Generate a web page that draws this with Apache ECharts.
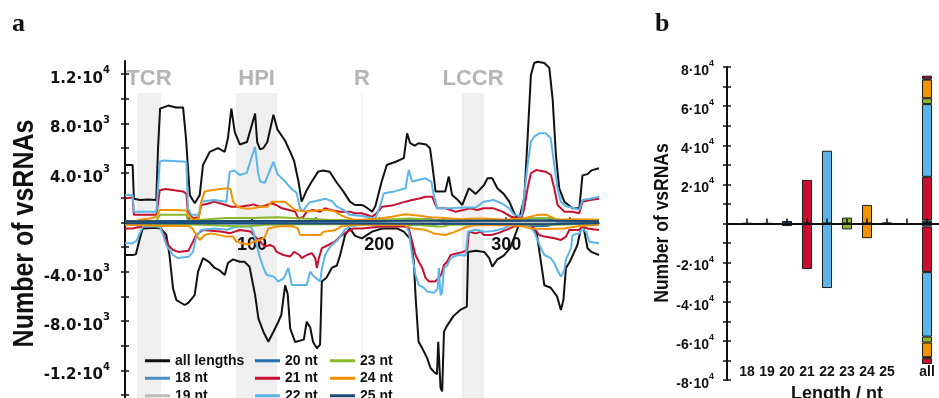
<!DOCTYPE html>
<html>
<head>
<meta charset="utf-8">
<script src="https://cdn.jsdelivr.net/npm/echarts@6.0.0/dist/echarts.min.js"></script>
<style>
  html, body { margin: 0; padding: 0; background: #fff; }
  #chart { width: 939px; height: 398px; }
</style>
</head>
<body>
<div id="chart"></div>
<script>
// ---- panel a: coverage along the genome, [position, count] ----
const allSense = [[0,4640],[6,4640],[7,1900],[12,1800],[18,1850],[24.6,1800],[26,6000],[27.6,9200],[34,9450],[40,9300],[45.7,9300],[48,6800],[51,2200],[54.9,1540],[58.8,2200],[61.4,4640],[66.7,5700],[73.2,6000],[78.5,5700],[81,6800],[83.7,9200],[86.4,7300],[90.3,6300],[96,6500],[102.4,8800],[104,6500],[106.3,5900],[108.8,6000],[112,6500],[116.8,8700],[120,7500],[126,6600],[130,5700],[133,5000],[136.5,3300],[139,1670],[143,2600],[147,3300],[152,4100],[156,4200],[161,4100],[166.7,3200],[171.8,2500],[177,1670],[181,1400],[186.4,1400],[190,1200],[194.5,860],[197,1300],[202,3300],[206,4640],[213,4900],[219.4,5200],[222,7200],[224.4,6400],[228,6200],[231,6400],[237,6300],[240,6000],[242,4500],[244.4,2500],[252,2500],[254.8,3700],[257.4,2200],[262,1800],[265.4,1400],[270.6,2750],[276,2300],[282.4,3000],[285.3,3560],[289,3560],[293,2750],[298,2300],[302.4,1670],[306.3,730],[310,200],[314.2,1940],[316.8,6800],[319.4,11900],[322,12900],[324.7,13000],[330,12900],[333.9,12500],[336.5,10000],[339.1,5450],[341.7,2750],[345.7,1670],[352.2,1130],[357.5,1130],[360,3800],[364,3900],[367,4200],[373,4370]];
const allAnti = [[0,-2650],[6,-2650],[8.5,-2600],[12,-1200],[14,-500],[24.7,-450],[28,-500],[32.5,-1000],[35,-2650],[37.8,-5350],[40.4,-6300],[47,-6700],[50,-6500],[54.8,-5900],[57.5,-4000],[61.4,-2900],[66,-3200],[70.6,-3700],[74.5,-3900],[78.5,-4270],[81,-3300],[85,-3000],[90.3,-3200],[94,-3200],[98,-3600],[102.4,-5900],[105,-7800],[108.9,-8860],[112.8,-9670],[116.8,-8860],[120.7,-8050],[123,-7500],[126,-5100],[128,-5800],[130,-8600],[133.9,-9700],[140.7,-9500],[143,-8050],[145.7,-8500],[148,-9700],[151,-10200],[153.5,-9900],[154.9,-4800],[158.5,-4500],[162.7,-3700],[166.7,-3500],[169.3,-2650],[173.2,-1030],[177,-490],[181,-1100],[186.4,-1300],[194.5,-760],[202.4,-500],[214,-500],[219.4,-760],[225,-1400],[227.3,-3200],[228.6,-5900],[231,-9670],[233.9,-10200],[237.8,-11000],[240.4,-11800],[243,-12100],[245.5,-12300],[246.5,-9670],[248.3,-13400],[249.6,-13700],[251,-8860],[253,-8450],[258.4,-7600],[263.8,-7100],[269,-6830],[270,-2400],[276,-2300],[282.7,-2400],[286.6,-2900],[289,-3600],[293,-3000],[298,-2700],[303,-2100],[306,-1300],[310,-200],[317,-200],[321,-500],[324,-900],[327.3,-3200],[330,-5100],[335,-5300],[340,-6000],[343,-7100],[345,-6300],[347,-3700],[350,-3200],[356,-1840],[358.8,-500],[361,-500],[364,-2100],[367,-2400],[373,-2650]];
const nt18Sense = [[0,30],[120,40],[240,40],[373,30]];
const nt18Anti = [[0,-30],[120,-40],[240,-40],[373,-30]];
const nt19Sense = [[0,20],[186,30],[373,20]];
const nt19Anti = [[0,-20],[186,-30],[373,-20]];
const nt20Sense = [[0,50],[100,80],[200,100],[225,200],[240,250],[250,100],[310,150],[320,300],[332,300],[340,100],[373,50]];
const nt20Anti = [[0,-60],[100,-80],[200,-100],[225,-200],[240,-250],[250,-100],[310,-150],[320,-300],[332,-300],[340,-100],[373,-60]];
const nt21Sense = [[0,1940],[6,2000],[7,600],[24.7,600],[27.3,2600],[32,2700],[45.7,2500],[48.3,2300],[49.5,860],[53.5,320],[58,400],[60,1400],[65,1500],[70,1670],[76,1500],[83.7,1260],[90.5,1260],[97,1350],[101,1450],[106.3,1260],[110,1350],[115.5,1540],[119,1400],[123.4,1130],[129,1000],[133.9,860],[136.5,300],[140,400],[143,860],[148,1000],[153.5,860],[157.5,1130],[162,1000],[169.3,860],[177,860],[181,730],[186.4,730],[194.5,450],[198,730],[202.4,1260],[210,1350],[220.7,1670],[226,1800],[232.5,1940],[236.5,2070],[241.7,2070],[244.4,1400],[245.7,1130],[252,1130],[260,860],[266,1000],[272,1130],[277,1000],[282.4,1130],[290,1130],[297,860],[303.7,450],[312,300],[314.2,1130],[316.8,2750],[319.4,3970],[323.4,4230],[331,4100],[335.2,3830],[337.8,2750],[340.4,1400],[345.7,860],[352,860],[357.5,730],[360,1670],[366,1800],[373,1900]];
const nt21Anti = [[0,-500],[6,-500],[10,-400],[24.7,-300],[28,-400],[31.2,-1160],[33.9,-1840],[37.8,-2240],[42,-2400],[50,-2300],[53.5,-1570],[56,-1030],[61.4,-620],[75,-750],[83,-880],[90.3,-620],[99,-750],[102.4,-1160],[106.3,-1570],[110.2,-1970],[114,-1840],[117,-1970],[119.4,-2400],[124.7,-2650],[130,-2770],[133,-2400],[137.2,-2650],[139.1,-2900],[143,-2650],[147,-2500],[149.7,-2900],[151,-3700],[152.3,-3000],[154.9,-2100],[160,-1840],[165,-1570],[169.3,-1160],[175,-750],[180,-500],[186.4,-500],[202,-350],[220,-350],[223.3,-500],[226,-1570],[228.6,-2650],[231.2,-3200],[233.9,-3700],[236.5,-4500],[239.2,-4800],[244,-4800],[247,-4500],[249,-4200],[251,-3460],[253.5,-3200],[256.2,-2650],[262,-2500],[266,-2400],[269.3,-2240],[270.6,-760],[276,-900],[280,-760],[282.4,-1030],[288,-1030],[293,-900],[300,-620],[306,-350],[318,-200],[322,-500],[326,-1030],[330,-1160],[338,-1300],[343,-1430],[347,-1160],[349.6,-620],[357,-620],[360,-350],[364,-500],[373,-620]];
const nt22Sense = [[0,2200],[6,2200],[7,860],[24.7,860],[27.3,4900],[30,5000],[48.3,4900],[49.5,1130],[52.2,600],[58,600],[60,1670],[70,1800],[79.8,1670],[82.4,4100],[86,4200],[90.3,3830],[95.8,4000],[101,5700],[102.4,6100],[104.7,4000],[106.3,3300],[110,3200],[114,4200],[116.8,4900],[120,3900],[126,3300],[131,2700],[135,2400],[137.8,1130],[140,900],[145,1600],[153.5,1800],[158,1900],[163,1700],[166.7,1260],[172,1000],[177,600],[186.4,500],[197,300],[201,1400],[203.7,2350],[212,2500],[220.7,2750],[223.3,4230],[226,3300],[236.5,3560],[241,3300],[243,2200],[245.7,1130],[258,1130],[265.4,1200],[276,1200],[282.4,1670],[290,1800],[297,1500],[302.4,1130],[306.3,600],[312,500],[314.2,2200],[316.8,4640],[319.4,6530],[322,6930],[326,7200],[331.2,7200],[335,6800],[337.8,4640],[340.4,2750],[343,1670],[347,1300],[354,1130],[357.5,1000],[360,1800],[366,1900],[373,2070]];
const nt22Anti = [[0,-1700],[6,-1700],[9,-1500],[11.6,-900],[14.2,-350],[24.7,-350],[28,-450],[30,-1030],[32.5,-1840],[37.8,-2650],[41.7,-2900],[50,-2800],[53.5,-2400],[56,-1160],[60,-620],[70,-500],[80,-600],[86,-400],[90.3,-350],[99,-350],[101,-760],[103.7,-1840],[106.3,-2900],[109,-3700],[111.5,-4270],[117,-4400],[120.7,-4800],[125,-4500],[128.6,-3700],[131.2,-5080],[143,-5080],[145.7,-4000],[148,-4300],[153.5,-4800],[155,-3700],[157.5,-2650],[160,-2200],[162.7,-1840],[166.7,-1500],[169.3,-1160],[173,-600],[177,-350],[186,-200],[220.7,-200],[223.3,-760],[226,-2650],[228.6,-4270],[231.2,-5080],[235,-5300],[237.8,-5600],[243,-5700],[246,-5400],[247,-3700],[248.3,-5900],[249.5,-5700],[251,-3700],[253.5,-3500],[256.2,-2900],[262,-2650],[268,-2700],[270,-760],[276,-600],[282.4,-760],[290,-700],[298,-500],[303.7,-200],[317,-200],[322,-760],[327.3,-2100],[330,-2650],[335,-2900],[337.8,-3300],[340.4,-3900],[343,-4400],[345.7,-3900],[347,-3000],[351,-2100],[352.2,-1030],[357.5,-900],[360,-500],[363,-800],[365.4,-1570],[373,-1700]];
const nt23Sense = [[0,100],[24.7,100],[27.3,600],[48.3,600],[49.5,150],[60,200],[80,350],[100,350],[120,400],[140,300],[160,200],[190,150],[210,250],[225,300],[240,200],[260,150],[300,150],[320,300],[335,350],[345,150],[373,100]];
const nt23Anti = [[0,-100],[30,-150],[60,-200],[85,-300],[95,-350],[110,-200],[140,-150],[200,-150],[230,-200],[245,-350],[250,-350],[255,-200],[300,-150],[340,-200],[373,-100]];
const nt24Sense = [[0,50],[8,100],[14,250],[20,300],[24.7,450],[27.3,1000],[40,1000],[48.3,950],[49.6,600],[53.5,200],[58,300],[60,1670],[62.7,2500],[68,2600],[75,2700],[81,2750],[83,2700],[85,1670],[88,1300],[90.5,1200],[96,1100],[101,1130],[106.3,1260],[112,1260],[115.5,1670],[121,1670],[126,1670],[129,1400],[133.9,1000],[140,900],[146,900],[153.5,1000],[160,1000],[165,900],[169.3,600],[174,400],[180,200],[186.4,200],[200,300],[210,450],[220.7,650],[230,550],[240,400],[252,350],[265,250],[275,300],[282.4,300],[300,200],[315,350],[324.7,600],[332,600],[340,200],[355,250],[373,200]];
const nt24Anti = [[0,-220],[10,-230],[30,-300],[50,-300],[53,-500],[56.2,-1030],[58.8,-1430],[62.7,-1030],[68,-900],[73,-1000],[79.8,-1160],[85,-1160],[87.6,-1570],[92,-1700],[97,-1800],[101,-1570],[106.3,-1430],[110,-1200],[112.8,-500],[120,-350],[128,-300],[132.5,-350],[136,-500],[137.8,-1030],[145,-1030],[154,-1030],[156.2,-760],[165,-650],[170,-350],[177,-250],[186,-200],[220,-200],[226,-500],[236,-600],[243,-900],[252,-1030],[259,-800],[268,-400],[275,-250],[300,-220],[312,-300],[319.4,-500],[330,-550],[345,-500],[358,-300],[373,-200]];
const nt25Sense = [[0,80],[120,100],[240,120],[330,150],[373,80]];
const nt25Anti = [[0,-80],[120,-100],[240,-120],[330,-150],[373,-80]];

const regionNames = ['TCR', 'HPI', 'R', 'LCCR'];
const regionStart = [9.4, 87.4, 186, 265];
const regionEnd = [28.3, 119.7, 187, 282.7];
const regionTop = 10460;

const xTicksA = [50, 100, 150, 200, 250, 300, 350];
const xLabelsA = [100, 200, 300];
const yTicksA = [-14000, -12000, -10000, -8000, -6000, -4000, -2000, 0, 2000, 4000, 6000, 8000, 10000, 12000];
const yLabelsA = [-12000, -8000, -4000, 4000, 8000, 12000];
const xMaxA = 373, yMinA = -14230, yMaxA = 13060;

// ---- panel b: totals per read length ----
const lengthsB = ['18', '19', '20', '21', '22', '23', '24', '25'];
const senseB = [150, 100, 1300, 22300, 37200, 3000, 9500, 500];
const antiB = [-150, -100, -1300, -23300, -33000, -3000, -7500, -500];
const otherSenseB = 1500, otherAntiB = -3000;
const yLabelsB = [-80000, -60000, -40000, -20000, 20000, 40000, 60000, 80000];

const names = ['all lengths', '18 nt', '19 nt', '20 nt', '21 nt', '22 nt', '23 nt', '24 nt', '25 nt'];
const colors = ['#111111', '#4a8cc4', '#bdbdbd', '#1f6fb2', '#c8102e', '#5bb5e8', '#8cb82b', '#f39200', '#1c4a78'];
const senseA = [allSense, nt18Sense, nt19Sense, nt20Sense, nt21Sense, nt22Sense, nt23Sense, nt24Sense, nt25Sense];
const antiA = [allAnti, nt18Anti, nt19Anti, nt20Anti, nt21Anti, nt22Anti, nt23Anti, nt24Anti, nt25Anti];

const FONT = 'Liberation Sans';
const catsB = [''].concat(lengthsB, [' ', 'all', '  ']);
const allIdx = catsB.indexOf('all');

// grid a spans 61..398 px; the x axis sits on y = 0
const gridATop = 61, gridAHeight = 337;
const zeroOffsetA = gridAHeight * (-yMinA) / (yMaxA - yMinA);

function sci(v, fixed) {
  const e = Math.floor(Math.log10(Math.abs(v)));
  const m = v / Math.pow(10, e);
  return '{m|' + (fixed ? m.toFixed(1) : m) + '·10}{e|' + e + '}';
}

const chart = echarts.init(document.getElementById('chart'));
const series = [];

// shaded genome regions
series.push({
  type: 'line', xAxisIndex: 0, yAxisIndex: 0, data: [], silent: true,
  markArea: {
    silent: true,
    itemStyle: { color: '#efefef' },
    label: { position: 'top', distance: 3, color: '#b5b5b5', fontFamily: FONT, fontWeight: 'bold', fontSize: 22 },
    data: regionNames.map((n, i) => [
      { name: n, xAxis: regionStart[i], yAxis: regionTop },
      { xAxis: regionEnd[i], yAxis: yMinA }
    ])
  }
});

names.forEach((n, i) => {
  [senseA[i], antiA[i]].forEach(d => {
    series.push({
      name: n, type: 'line', xAxisIndex: 0, yAxisIndex: 0, data: d,
      showSymbol: false, symbol: 'none', color: colors[i],
      lineStyle: { width: 2, color: colors[i] }
    });
  });
});

function barData(i, v) {
  const d = catsB.map(() => '-');
  if (i >= 0) d[i + 1] = v;
  d[allIdx] = v;
  return d;
}
const barColors = colors.slice(1);
lengthsB.forEach((l, i) => {
  [senseB[i], antiB[i]].forEach(v => {
    series.push({
      type: 'bar', xAxisIndex: 1, yAxisIndex: 2, stack: 'len', barWidth: 10,
      data: barData(i, v),
      itemStyle: { color: barColors[i], borderColor: '#1a1a1a', borderWidth: 1 }
    });
  });
});
[otherSenseB, otherAntiB].forEach(v => {
  series.push({
    type: 'bar', xAxisIndex: 1, yAxisIndex: 2, stack: 'len', barWidth: 10,
    data: barData(-1, v),
    itemStyle: { color: '#c8102e', borderColor: '#1a1a1a', borderWidth: 1 }
  });
});

const richA = {
  m: { fontFamily: 'DejaVu Sans', fontWeight: 'bold', fontSize: 15, color: '#111', padding: [6, 0, 0, 0] },
  e: { fontFamily: 'DejaVu Sans', fontWeight: 'bold', fontSize: 10, color: '#111', verticalAlign: 'top' }
};
const richB = {
  m: { fontFamily: FONT, fontWeight: 'bold', fontSize: 14, color: '#111', padding: [5, 0, 0, 0] },
  e: { fontFamily: FONT, fontWeight: 'bold', fontSize: 9, color: '#111', verticalAlign: 'top' }
};

const legendBase = {
  orient: 'vertical', top: 352, height: 60, padding: 0, itemGap: 0, itemWidth: 25, itemHeight: 3,
  icon: 'rect', selectedMode: false,
  textStyle: { fontFamily: FONT, fontWeight: 'bold', fontSize: 14, color: '#111', lineHeight: 17.5 }
};

chart.setOption({
  animation: false,
  backgroundColor: '#fff',
  grid: [
    { left: 125, right: 340, top: gridATop, height: gridAHeight, outerBoundsMode: 'none' },
    { left: 727, right: -8, top: 67, bottom: 18, outerBoundsMode: 'none' }
  ],
  legend: [
    Object.assign({ left: 145, data: names.slice(0, 3) }, legendBase),
    Object.assign({ left: 255, data: names.slice(3, 6) }, legendBase),
    Object.assign({ left: 330, data: names.slice(6, 9) }, legendBase)
  ],
  xAxis: [
    {
      type: 'value', gridIndex: 0, min: 0, max: xMaxA, z: 1.5, position: 'bottom', offset: -zeroOffsetA,
      axisLine: { onZero: false, lineStyle: { color: '#111', width: 1.5 } },
      axisTick: { inside: true, length: 5, customValues: xTicksA, lineStyle: { color: '#111', width: 1.5 } },
      axisLabel: { customValues: xLabelsA, margin: 14, color: '#111', fontFamily: FONT, fontWeight: 'bold', fontSize: 18 },
      splitLine: { show: false }
    },
    {
      type: 'category', gridIndex: 1, data: catsB, boundaryGap: false, z: 5,
      axisLine: { onZero: true, lineStyle: { color: '#111', width: 2 } },
      axisTick: { inside: true, length: 5, interval: 0, lineStyle: { color: '#111', width: 1.5 } },
      axisLabel: { show: false }
    },
    {
      type: 'category', gridIndex: 1, data: catsB, boundaryGap: false, z: 5,
      axisLine: { show: false, onZero: true },
      axisTick: { inside: false, length: 5, interval: 0, lineStyle: { color: '#111', width: 1.5 } },
      axisLabel: { show: false }
    },
    {
      type: 'category', gridIndex: 1, data: catsB, boundaryGap: false, position: 'bottom', offset: -16,
      axisLine: { show: false, onZero: false }, axisTick: { show: false },
      axisLabel: { interval: 0, margin: 1, color: '#111', fontFamily: FONT, fontWeight: 'bold', fontSize: 14 },
      name: 'Length / nt', nameLocation: 'middle', nameGap: 21,
      nameTextStyle: { color: '#111', fontFamily: FONT, fontWeight: 'bold', fontSize: 18 }
    }
  ],
  yAxis: [
    {
      type: 'value', gridIndex: 0, min: yMinA, max: yMaxA, position: 'left', z: 1.5,
      axisLine: { show: true, onZero: false, lineStyle: { color: '#111', width: 2 } },
      axisTick: { show: true, length: 4, customValues: yTicksA, lineStyle: { color: '#111', width: 1.5 } },
      axisLabel: { customValues: yLabelsA, margin: 15, padding: [4, 0, 0, 0], formatter: v => sci(v, true), rich: richA },
      splitLine: { show: false }
    },
    {
      type: 'value', gridIndex: 0, min: yMinA, max: yMaxA, position: 'left', z: 1.5,
      axisLine: { show: false, onZero: false },
      axisTick: { show: true, inside: true, length: 4, customValues: yTicksA, lineStyle: { color: '#111', width: 1.5 } },
      axisLabel: { show: false }, splitLine: { show: false }
    },
    {
      type: 'value', gridIndex: 1, min: -80000, max: 80000, interval: 10000, position: 'left', z: 5,
      axisLine: { show: true, onZero: false, lineStyle: { color: '#111', width: 2 } },
      axisTick: { show: true, length: 4, lineStyle: { color: '#111', width: 1.5 } },
      axisLabel: { customValues: yLabelsB, margin: 13, padding: [3, 0, 0, 0], formatter: v => sci(v, false), rich: richB },
      splitLine: { show: false }
    },
    {
      type: 'value', gridIndex: 1, min: -80000, max: 80000, interval: 10000, position: 'left', z: 5,
      axisLine: { show: false, onZero: false },
      axisTick: { show: true, inside: true, length: 4, lineStyle: { color: '#111', width: 1.5 } },
      axisLabel: { show: false }, splitLine: { show: false }
    }
  ],
  graphic: [
    { type: 'text', x: 12, y: 24, style: { text: 'a', font: 'bold 26px "Liberation Serif"', fill: '#111', textVerticalAlign: 'middle' } },
    { type: 'text', x: 655, y: 24, style: { text: 'b', font: 'bold 26px "Liberation Serif"', fill: '#111', textVerticalAlign: 'middle' } },
    { type: 'text', x: 25, y: 233.5, rotation: Math.PI / 2, scaleY: 1.2,
      style: { text: 'Number of vsRNAs', font: 'bold 25px "Liberation Sans"', fill: '#111', textAlign: 'center', textVerticalAlign: 'middle' } },
    { type: 'text', x: 662.5, y: 223, rotation: Math.PI / 2, scaleY: 1.12,
      style: { text: 'Number of vsRNAs', font: 'bold 17.5px "Liberation Sans"', fill: '#111', textAlign: 'center', textVerticalAlign: 'middle' } }
  ],
  series: series
});
</script>
</body>
</html>
